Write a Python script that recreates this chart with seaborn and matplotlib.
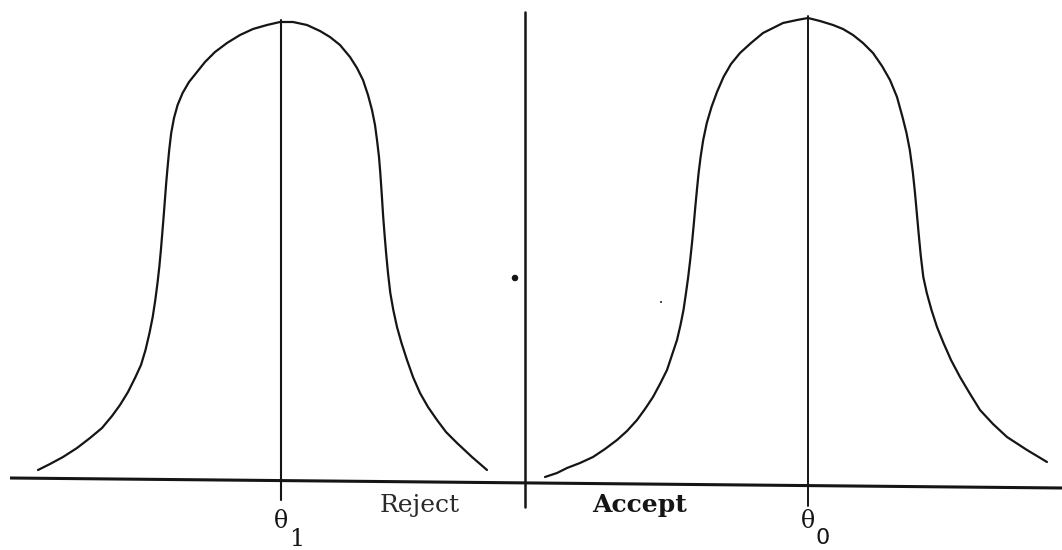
import matplotlib
matplotlib.use("Agg")
import matplotlib.pyplot as plt
import seaborn as sns
import pandas as pd

# curve readings (x, y) in picture units, y measured from the top
reject_x = [38, 50, 63, 77, 90, 102, 112, 120, 128, 135, 141, 145.5, 149.5, 152.7, 155.3, 157.5, 159.3, 160.9,
            162.3, 163.6, 164.9, 166.2, 167.6, 169.2, 171.2, 174, 177.6, 182.6, 189, 197, 205, 215, 227, 240,
            253, 267, 280,
            293, 307, 320, 330, 340, 350, 357, 363, 368, 372, 375, 377, 379, 380.3, 381.8, 383.2, 384.6, 386.1,
            388, 390.3, 393.3, 397, 401.5, 407, 413, 420, 428, 437, 446, 457, 472, 487]
reject_y = [470, 464, 457, 448, 438, 428, 416, 405, 392, 378, 365, 350, 333, 317, 300, 283, 267, 250, 233, 217,
            200, 183, 167, 150, 133, 118, 105, 93, 82, 72, 62, 52, 43, 35, 29, 25, 22,
            22, 25, 31, 37, 45, 57, 68, 80, 95, 110, 125, 140, 157, 173, 195, 217, 235, 253, 273,
            293, 310, 327, 343, 360, 377, 393, 407, 420, 432, 443, 457, 470]

accept_x = [545, 557, 567, 580, 593, 605, 617, 627, 637, 645, 653, 660, 667, 672, 677, 680.5, 683.5, 686, 688.2,
            690.2, 692, 693.7, 695.3, 696.9, 698.6, 700.6, 703.2, 706.8, 711.5, 717, 723.5, 731, 740, 751, 763,
            773, 783, 797, 808,
            820, 833, 843, 853, 863, 873, 882, 890, 897, 902.5, 906.5, 909.8, 912.8, 915, 916.8, 918.6, 920.7,
            923.3, 926.8, 931.5, 937, 943.5, 951, 960, 969.5, 980, 993, 1007, 1027, 1047]
accept_y = [477, 473, 468, 463, 457, 449, 440, 431, 420, 409, 397, 384, 370, 355, 340, 325, 310, 293, 277, 260,
            243, 225, 207, 190, 173, 157, 140, 123, 107, 92, 77, 64, 53, 43, 33, 28, 23, 20, 18,
            21, 25, 29, 35, 43, 53, 66, 80, 97, 117, 133, 150, 172, 193, 213, 233, 255, 277, 293,
            310, 327, 343, 360, 377, 393, 410, 424, 437, 450, 462]

# axis line and the three verticals
base_x = [10, 1062]
base_y = [478, 488]
theta1_x, theta1_span = 281, [20, 500]
divider_x, divider_span = 525, [12, 507]
theta0_x, theta0_span = 808, [16, 506]

labels = ["Reject", "Accept"]
label_x = [420, 640]
label_y = [512, 512]

sns.set_style("white")
ink = "#151515"

fig, ax = plt.subplots(figsize=(10.62, 5.5), dpi=100)
ax.set_position([0, 0, 1, 1])

df_rej = pd.DataFrame({"x": reject_x, "y": reject_y})
df_acc = pd.DataFrame({"x": accept_x, "y": accept_y})
for df in (df_rej, df_acc):
    sns.lineplot(data=df, x="x", y="y", sort=False, ax=ax, color=ink, lw=1.6,
                 solid_joinstyle="round", solid_capstyle="round")

ax.plot(base_x, base_y, color=ink, lw=2.2, solid_capstyle="butt")
ax.plot([theta1_x, theta1_x], theta1_span, color=ink, lw=1.5)
ax.plot([divider_x, divider_x], divider_span, color=ink, lw=1.8)
ax.plot([theta0_x, theta0_x], theta0_span, color=ink, lw=1.4)

# scanner specks
ax.scatter([515, 661], [278, 302], s=[22, 2], color=ink, marker="o", linewidths=0)

serif = ["DejaVu Serif"]
ax.text(label_x[0], label_y[0], labels[0], ha="center", va="baseline", fontsize=18,
        family=serif, color="#2a2a2a")
ax.text(label_x[1], label_y[1], labels[1], ha="center", va="baseline", fontsize=18,
        family=serif, color=ink, fontweight="bold")
ax.text(281, 522, "θ", ha="center", va="center", fontsize=17, family=serif, color=ink)
ax.text(297, 540, "1", ha="center", va="center", fontsize=17, family=serif, color=ink)
ax.text(808, 521, "θ", ha="center", va="center", fontsize=17, family=serif, color=ink)
ax.text(823, 538, "0", ha="center", va="center", fontsize=16, family=["DejaVu Sans"], color=ink)

ax.set_xlim(0, 1062)
ax.set_ylim(550, 0)
ax.axis("off")

fig.savefig("out.png", dpi=100, facecolor="white")
